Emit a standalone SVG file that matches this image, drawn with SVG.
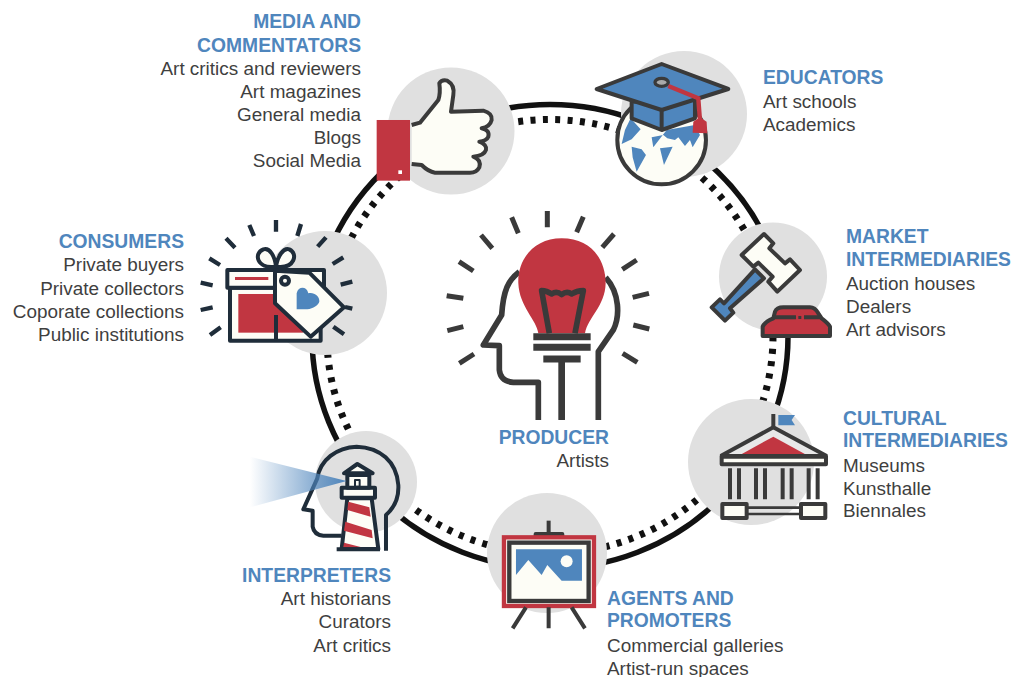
<svg xmlns="http://www.w3.org/2000/svg" width="1013" height="677" viewBox="0 0 1013 677">
<style>
text{font-family:"Liberation Sans",Arial,sans-serif;font-size:18.9px;fill:#3f3f3f}
.h{fill:#4f86bd;font-weight:700;font-size:19.3px}
.r{text-anchor:end}
.bg{fill:#e0e0e0}
.ln{fill:none;stroke:#3a3a3a;stroke-width:12;stroke-linejoin:round;stroke-linecap:butt}
.cr{fill:#fdfdf6;stroke:#3a3a3a;stroke-width:12;stroke-linejoin:round}
.bl{fill:#4f86bd}
.re{fill:#c13641}
.rs{fill:#c13641;stroke:#3a3a3a;stroke-width:12;stroke-linejoin:round}
.bs{fill:#4f86bd;stroke:#3a3a3a;stroke-width:12;stroke-linejoin:round}
.nv{stroke:#1f2d3a}
</style>
<defs>
<linearGradient id="beam" x1="0" y1="0" x2="1" y2="0"><stop offset="0" stop-color="#4f86bd" stop-opacity="0"/><stop offset="1" stop-color="#4f86bd"/></linearGradient>
</defs>
<g id="connectors">
<ellipse cx="550" cy="336.5" rx="238" ry="232" fill="none" stroke="#111" stroke-width="5.5"/>
<ellipse cx="550" cy="336.5" rx="223" ry="217" fill="none" stroke="#111" stroke-width="7" stroke-dasharray="5 7.4"/>
</g>
<g id="media">
<circle class="bg" cx="451" cy="131" r="63.5"/>
<g transform="translate(370 50) scale(.3333)">
<path class="cr" d="M125 225 L150 218 L205 150 Q212 130 208 100 Q215 88 232 92 Q255 105 250 135 L243 185 L340 182 Q368 190 365 210 Q360 230 335 235 Q360 240 355 260 Q350 272 328 275 Q352 285 348 300 Q342 318 310 320 Q335 330 328 352 Q320 368 300 368 L195 368 Q175 365 155 345 L125 342"/>
<rect class="re" x="20" y="210" width="100" height="182"/>
<rect x="85" y="361" width="11" height="11" fill="#fff"/>
</g>
<text class="h r" x="361" y="28">MEDIA AND</text>
<text class="h r" x="361" y="52">COMMENTATORS</text>
<text class="r" x="361" y="75">Art critics and reviewers</text>
<text class="r" x="361" y="98">Art magazines</text>
<text class="r" x="361" y="121">General media</text>
<text class="r" x="361" y="144">Blogs</text>
<text class="r" x="361" y="167">Social Media</text>
</g>
<g id="educators">
<circle class="bg" cx="684" cy="114" r="63"/>
<g transform="translate(370 50) scale(.3333)">
<circle class="cr" cx="875" cy="270" r="133"/>
<path class="bl" d="M755 282 L785 268 L812 238 L782 205 L765 240Z M785 290 L815 298 L828 315 L800 365 L788 322Z M850 292 L845 262 L880 255 L892 265 L915 270 L925 262 L945 288 L960 270 L968 292 L990 255 L975 225 L890 240Z M870 295 L908 290 L882 345Z"/>
<path class="bs" d="M785 155 L785 205 L875 240 L975 205 L975 145Z"/>
<path class="bs" d="M680 117 L875 42 L1075 117 L875 180Z"/>
<path class="ln" d="M875 180 L875 240"/>
<ellipse cx="875" cy="97" rx="20" ry="12" fill="#aaa" stroke="#3a3a3a" stroke-width="10"/>
<path d="M895 108 L985 145 L990 210" fill="none" stroke="#c13641" stroke-width="13"/>
<path class="re" d="M968 248 L970 215 L990 202 L1010 215 L1012 250Z"/>
</g>
<text class="h" x="763" y="84">EDUCATORS</text>
<text x="763" y="108">Art schools</text>
<text x="763" y="131">Academics</text>
</g>
<g id="market">
<circle class="bg" cx="773" cy="276.5" r="54"/>
<g transform="translate(690 210) scale(.3333)">
<path class="bs" d="M195 178 L222 205 L120 295 L130 308 L105 332 L65 292 L90 268 L102 280Z"/>
<path class="cr" d="M155 135 L222 72 L250 100 L238 115 L285 160 L300 148 L330 180 L262 245 L235 215 L248 200 L205 158 L190 170Z"/>
<path class="rs" d="M218 378V350Q225 335 250 325L255 305Q260 292 280 292H360Q375 292 385 310L395 325Q415 340 420 350V378Z"/>
<path class="ln" d="M250 322H318M342 322H395"/>
<rect x="325" y="318" width="9" height="9" fill="#3a3a3a"/>
</g>
<text class="h" x="846" y="243">MARKET</text>
<text class="h" x="846" y="266">INTERMEDIARIES</text>
<text x="846" y="290">Auction houses</text>
<text x="846" y="313">Dealers</text>
<text x="846" y="336">Art advisors</text>
</g>
<g id="cultural">
<circle class="bg" cx="751" cy="462" r="63"/>
<g transform="translate(690 210) scale(.3333)">
<path class="ln" d="M250 650 L250 612"/>
<path class="bl" d="M265 615 L315 615 L305 630 L315 646 L265 646Z"/>
<path class="ln" d="M92 738 L250 652 L410 738" style="fill:#e8e8e8"/>
<path class="re" d="M150 735 L250 680 L350 735Z"/>
<rect class="ln" x="95" y="738" width="313" height="25" style="fill:#fdfdf6"/>
<path class="ln" d="M95 740 H408"/>
<path class="ln" d="M120 775V868M147 775V868M198 775V868M225 775V868M278 775V868M305 775V868M356 775V868M383 775V868"/>
<rect class="cr" x="97" y="882" width="73" height="42"/>
<rect class="cr" x="333" y="882" width="73" height="42"/>
<path class="ln" style="stroke-width:8" d="M170 893H333M170 912H333"/>
</g>
<text class="h" x="843" y="425">CULTURAL</text>
<text class="h" x="843" y="447">INTERMEDIARIES</text>
<text x="843" y="472">Museums</text>
<text x="843" y="495">Kunsthalle</text>
<text x="843" y="517">Biennales</text>
</g>
<g id="agents">
<circle class="bg" cx="547" cy="553" r="60"/>
<g transform="translate(240 420) scale(.3333)">
<path class="ln" d="M926 302V345"/>
<rect class="rs" x="887" y="342" width="80" height="25"/>
<rect x="792" y="352" width="270" height="206" fill="#fdfdf6" stroke="#c13641" stroke-width="13"/>
<rect x="808" y="368" width="238" height="175" fill="#fdfdf6" stroke="#3a3a3a" stroke-width="13"/>
<path class="bl" d="M828 388H1026V482H965L922 435L905 465L865 420L828 465Z"/>
<circle cx="980" cy="424" r="18" fill="#fdfdf6"/>
<path class="ln" d="M858 562L818 625M926 562V625M995 562L1035 625"/>
</g>
<text class="h" x="607" y="605">AGENTS AND</text>
<text class="h" x="607" y="627">PROMOTERS</text>
<text x="607" y="652">Commercial galleries</text>
<text x="607" y="675">Artist-run spaces</text>
</g>
<g id="interpreters">
<circle class="bg" cx="366" cy="482" r="51"/>
<g transform="translate(240 420) scale(.3333)">
<path class="ln nv" d="M438 392 L438 285 Q478 250 475 195 C470 125 420 82 350 80 C290 82 240 120 232 175 L190 268 L218 272 L218 320 Q222 345 250 347 L305 347"/>
<path class="cr nv" d="M322 235 L395 235 L415 387 L305 387Z"/>
<path class="re" d="M325 245 L388 262 L392 290 L322 270Z M316 305 L395 330 L398 355 L312 332Z M312 368 L365 382 L310 382Z"/>
<path class="ln nv" d="M290 388H420"/>
<rect class="cr nv" x="305" y="203" width="100" height="30"/>
<rect class="ln nv" x="322" y="165" width="66" height="38" style="fill:#fdfdf6"/>
<path class="ln nv" d="M345 180h14v20h-14z" style="stroke-width:6"/>
<path class="ln nv" d="M312 160L352 132L398 160Z" style="fill:#fdfdf6"/>
<path fill="url(#beam)" d="M30 110L320 183L30 262Z"/>
</g>
<text class="h r" x="391" y="582">INTERPRETERS</text>
<text class="r" x="391" y="605">Art historians</text>
<text class="r" x="391" y="628">Curators</text>
<text class="r" x="391" y="652">Art critics</text>
</g>
<g id="consumers">
<circle class="bg" cx="325" cy="293" r="62"/>
<g transform="translate(190 210) scale(.3333)">
<path class="ln nv" style="stroke-width:13" d="M258 30V65M178 45L192 78M108 85L135 113M58 145L90 165M32 218L68 226M32 300L68 292M60 375L92 352M333 42L322 78M408 82L383 110M460 142L428 162M487 215L452 224M487 296L465 291M462 373L430 350"/>
<rect class="cr nv" x="120" y="233" width="272" height="159"/>
<rect class="re" x="145" y="252" width="195" height="116"/>
<rect class="cr nv" x="112" y="180" width="290" height="53"/>
<rect class="re" x="135" y="201" width="100" height="9"/>
<path class="ln nv" d="M258 315V392"/>
<path class="ln nv" style="fill:#fdfdf6" d="M258 170C200 178 190 130 220 118C240 112 255 140 258 170C262 140 280 112 298 118C325 130 315 178 258 170V180"/>
<path class="cr nv" d="M255 182L358 188L462 292L362 380L255 280Z"/>
<circle class="cr nv" cx="285" cy="212" r="12"/>
<path class="bl" d="M352 298H320V250C325 228 350 228 355 250C370 245 390 258 388 275C385 285 370 295 352 298Z"/>
</g>
<text class="h r" x="184" y="248">CONSUMERS</text>
<text class="r" x="184" y="271">Private buyers</text>
<text class="r" x="184" y="295">Private collectors</text>
<text class="r" x="184" y="318">Coporate collections</text>
<text class="r" x="184" y="341">Public institutions</text>
</g>
<g id="producer">
<g transform="translate(430 200) scale(.3333)">
<path class="ln" style="stroke-width:15" d="M352 33V82M245 52L265 100M153 105L187 145M87 185L130 213M50 287L100 295M52 392L100 380M88 490L132 462M460 50L440 97M552 102L517 142M620 180L577 208M657 280L608 292M658 387L610 375M622 487L578 460"/>
<path class="ln" style="stroke-width:17" d="M268 215C235 240 220 270 215 345L160 435L208 437L208 510Q212 545 250 547L325 547L325 660M527 232C570 280 570 350 550 390L505 455L505 660"/>
<path class="re" d="M395 115C310 115 262 180 265 250C268 320 320 360 325 400L465 400C475 350 525 320 527 250C527 175 480 115 395 115Z"/>
<path class="ln" style="stroke-width:17" d="M358 400L335 272Q350 272 365 282Q380 272 395 284Q410 272 425 282Q440 272 460 272L435 400"/>
<path class="ln" style="stroke-width:21" d="M310 410H482M310 442H482M340 477H452"/>
<path class="ln" style="stroke-width:20" d="M395 477V660"/>
</g>
<text class="h r" x="609" y="444">PRODUCER</text>
<text class="r" x="609" y="467">Artists</text>
</g>
</svg>
